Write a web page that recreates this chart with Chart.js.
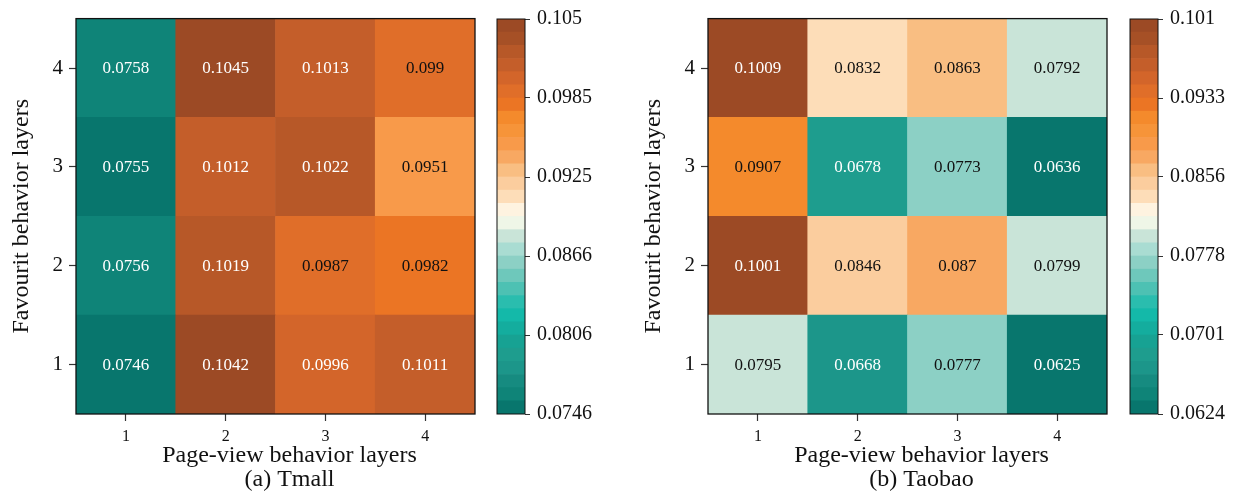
<!DOCTYPE html>
<html>
<head>
<meta charset="utf-8">
<script src="https://cdn.jsdelivr.net/npm/chart.js@4.4.0/dist/chart.umd.min.js"></script>
<style>
  body { margin: 0; background: #fff; }
  #wrap { position: relative; width: 1233px; height: 496px; }
  canvas { position: absolute; top: 0; }
</style>
</head>
<body>
<div id="wrap">
  <canvas id="tmall" width="480" height="496" style="left:0px"></canvas>
  <canvas id="tmallBar" width="120" height="496" style="left:490px"></canvas>
  <canvas id="taobao" width="480" height="496" style="left:632px"></canvas>
  <canvas id="taobaoBar" width="110" height="496" style="left:1123px"></canvas>
</div>
<script>
// page-view layers along x, favourit layers along y (row 1 at the bottom)
const layers = ['1', '2', '3', '4'];

const tmallRow1 = [0.0746, 0.1042, 0.0996, 0.1011];
const tmallRow2 = [0.0756, 0.1019, 0.0987, 0.0982];
const tmallRow3 = [0.0755, 0.1012, 0.1022, 0.0951];
const tmallRow4 = [0.0758, 0.1045, 0.1013, 0.099];

const taobaoRow1 = [0.0795, 0.0668, 0.0777, 0.0625];
const taobaoRow2 = [0.1001, 0.0846, 0.087, 0.0799];
const taobaoRow3 = [0.0907, 0.0678, 0.0773, 0.0636];
const taobaoRow4 = [0.1009, 0.0832, 0.0863, 0.0792];

const tmallTicks = ['0.0746', '0.0806', '0.0866', '0.0925', '0.0985', '0.105'];
const taobaoTicks = ['0.0624', '0.0701', '0.0778', '0.0856', '0.0933', '0.101'];

// 30-step teal -> cream -> brown map, low to high
const palette = [
  '#08766d', '#0f8478', '#168b80', '#1c968a', '#1e9d8e', '#17a293',
  '#14ad9e', '#14b9a9', '#2abdae', '#4dc1b3', '#6ec8bb', '#8cd0c5',
  '#a9dcd2', '#c9e4d8', '#eff6e7', '#fef3e0', '#fdddb8', '#fbcd9e',
  '#f9be82', '#f8a862', '#f89a4a', '#f69439', '#f48a2c', '#eb7524',
  '#e06e29', '#d3652a', '#c45e2a', '#b75828', '#a65026', '#9c4a25'
];

const serif = 'Liberation Serif';
Chart.defaults.font.family = serif;
Chart.defaults.color = '#111';

function binOf(v, lo, hi) {
  const k = Math.floor((v - lo) / (hi - lo) * palette.length);
  return Math.min(palette.length - 1, Math.max(0, k));
}

// black box around the plotting area
const frame = {
  id: 'frame',
  afterDraw(chart, args, opts) {
    const { ctx, chartArea: a } = chart;
    ctx.save();
    ctx.strokeStyle = '#111';
    ctx.lineWidth = opts.width || 1;
    ctx.strokeRect(a.left, a.top, a.right - a.left, a.bottom - a.top);
    ctx.restore();
  }
};

// value printed in the middle of each cell
const cellText = {
  id: 'cellText',
  afterDatasetsDraw(chart, args, opts) {
    if (!opts.on) return;
    const { ctx } = chart;
    ctx.save();
    ctx.font = '17px "' + serif + '"';
    ctx.textAlign = 'center';
    ctx.textBaseline = 'middle';
    chart.data.datasets.forEach((ds, i) => {
      chart.getDatasetMeta(i).data.forEach((bar, j) => {
        const v = ds.values[j];
        const t = (v - opts.lo) / (opts.hi - opts.lo);
        ctx.fillStyle = (t < 0.2 || t > 0.82) ? '#fff' : '#111';
        const p = bar.getCenterPoint();
        ctx.fillText(String(v), p.x, p.y + 1);
      });
    });
    ctx.restore();
  }
};

// x-axis label and panel caption, set a little right of the plot centre
const caption = {
  id: 'caption',
  afterDraw(chart, args, opts) {
    if (!opts.lines) return;
    const { ctx, chartArea: a } = chart;
    const cx = (a.left + a.right) / 2 + opts.dx;
    ctx.save();
    ctx.font = '24px "' + serif + '"';
    ctx.fillStyle = '#111';
    ctx.textAlign = 'center';
    ctx.textBaseline = 'middle';
    opts.lines.forEach((line, i) => ctx.fillText(line, cx, opts.y + i * 24));
    ctx.restore();
  }
};

function makeHeatmap(id, rows, panel) {
  const all = rows.flat();
  const lo = Math.min(...all), hi = Math.max(...all);
  const datasets = rows.map((vals, r) => ({
    data: vals.map(() => [r + 0.5, r + 1.5]),
    values: vals,
    backgroundColor: vals.map(v => palette[binOf(v, lo, hi)]),
    borderWidth: 0,
    grouped: false,
    barPercentage: 1,
    categoryPercentage: 1
  }));

  new Chart(document.getElementById(id), {
    type: 'bar',
    data: { labels: layers, datasets },
    plugins: [frame, cellText, caption],
    options: {
      responsive: false,
      animation: false,
      layout: { padding: { top: 16, right: 5, left: 0, bottom: 0 } },
      plugins: {
        legend: { display: false },
        tooltip: { enabled: false },
        frame: { width: 1.3 },
        cellText: { on: true, lo, hi },
        caption: { lines: ['Page-view behavior layers', panel], dx: 14, y: 456 }
      },
      scales: {
        x: {
          grid: { offset: false, drawOnChartArea: false, tickLength: 7, tickColor: '#333', tickWidth: 1.2 },
          border: { display: false },
          ticks: { font: { size: 16 }, padding: 6 },
          afterFit: s => { s.height = 82; }
        },
        y: {
          min: 0.5,
          max: 4.5,
          afterBuildTicks: s => { s.ticks = layers.map(l => ({ value: Number(l) })); },
          grid: { drawOnChartArea: false, tickLength: 7, tickColor: '#333', tickWidth: 1.2 },
          border: { display: false },
          ticks: { font: { size: 21 }, padding: 6 },
          title: {
            display: true,
            text: 'Favourit behavior layers',
            font: { size: 24 },
            padding: { top: 7 }
          },
          afterFit: s => { s.width = 76; }
        }
      }
    }
  });
}

function makeColorbar(id, rows, tickLabels, axisWidth) {
  const all = rows.flat();
  const lo = Math.min(...all), hi = Math.max(...all);
  const step = (hi - lo) / palette.length;
  const datasets = palette.map((c, k) => ({
    data: [[lo + k * step, lo + (k + 1) * step]],
    backgroundColor: c,
    borderWidth: 0,
    grouped: false,
    barPercentage: 1,
    categoryPercentage: 1
  }));

  new Chart(document.getElementById(id), {
    type: 'bar',
    data: { labels: [''], datasets },
    plugins: [frame],
    options: {
      responsive: false,
      animation: false,
      layout: { padding: { top: 16, left: 7, bottom: 82, right: 0 } },
      plugins: {
        legend: { display: false },
        tooltip: { enabled: false },
        frame: { width: 1 }
      },
      scales: {
        x: { display: false },
        y: {
          position: 'right',
          min: lo,
          max: hi,
          afterBuildTicks: s => {
            s.ticks = tickLabels.map((t, i) => ({ value: lo + (hi - lo) * i / (tickLabels.length - 1) }));
          },
          grid: { drawOnChartArea: false, tickLength: 5, tickColor: '#333', tickWidth: 1 },
          border: { display: false },
          ticks: {
            font: { size: 20 },
            padding: 7,
            callback: (v, i) => tickLabels[i]
          },
          afterFit: s => { s.width = axisWidth; }
        }
      }
    }
  });
}

const tmallRows = [tmallRow1, tmallRow2, tmallRow3, tmallRow4];
const taobaoRows = [taobaoRow1, taobaoRow2, taobaoRow3, taobaoRow4];

makeHeatmap('tmall', tmallRows, '(a) Tmall');
makeColorbar('tmallBar', tmallRows, tmallTicks, 85);
makeHeatmap('taobao', taobaoRows, '(b) Taobao');
makeColorbar('taobaoBar', taobaoRows, taobaoTicks, 75);
</script>
</body>
</html>
